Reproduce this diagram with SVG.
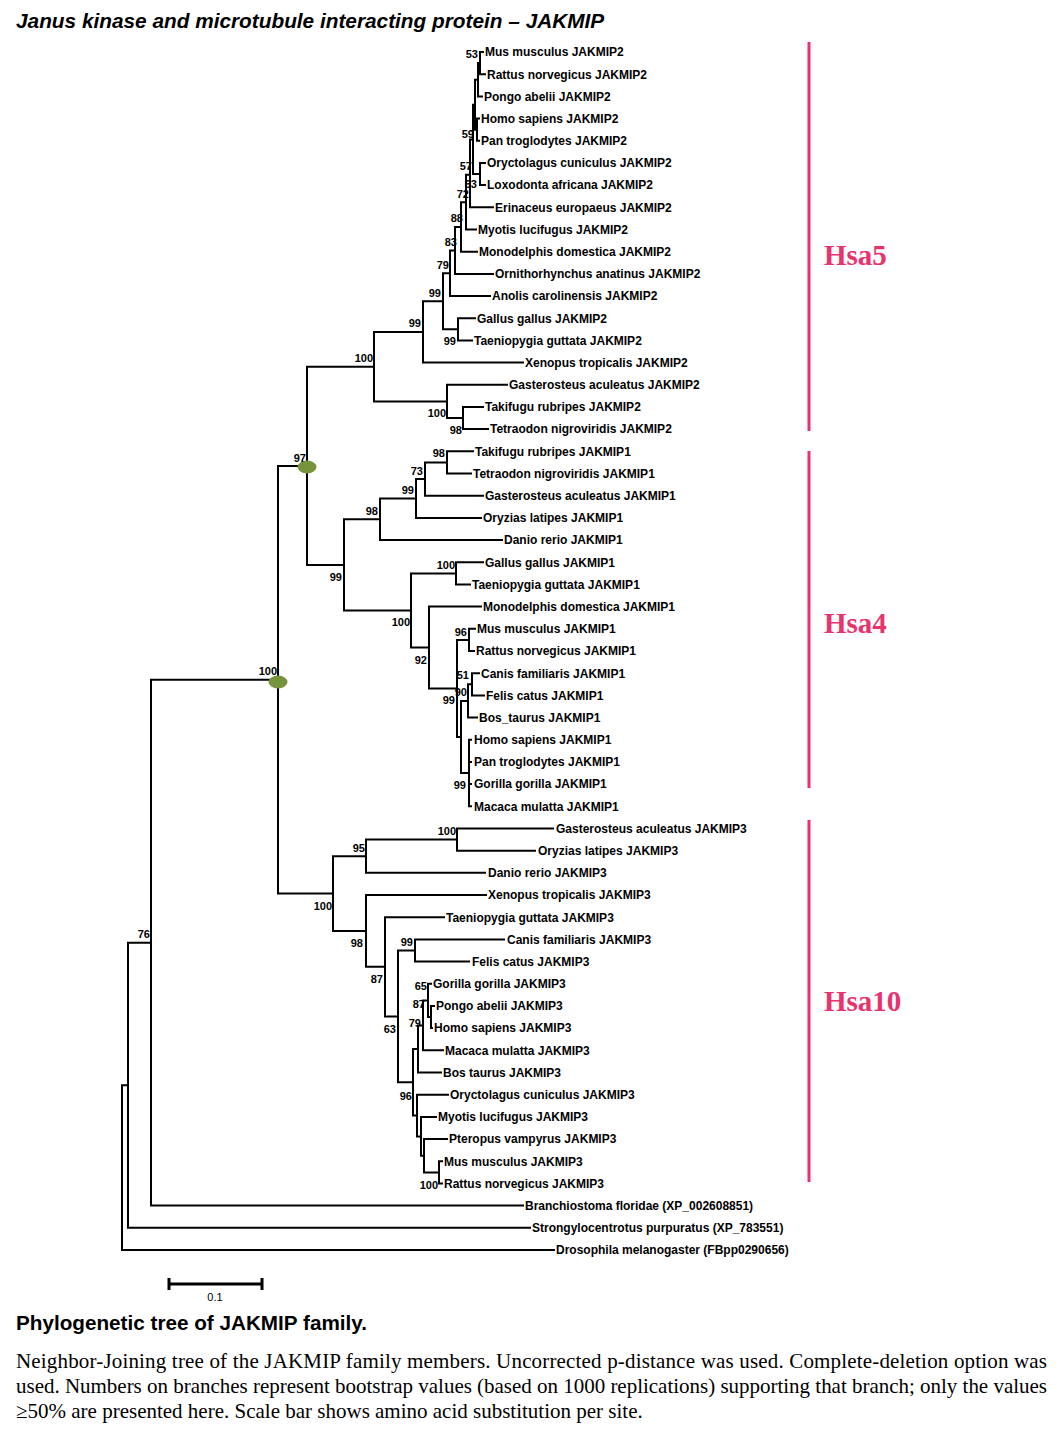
<svg xmlns="http://www.w3.org/2000/svg" width="1062" height="1436" viewBox="0 0 1062 1436">
<style>
.leaf{font-family:"Liberation Sans",Arial,sans-serif;font-weight:bold;font-size:12px;fill:#000}
.bs{font-family:"Liberation Sans",Arial,sans-serif;font-weight:bold;font-size:11px;fill:#000;text-anchor:end}
.br{fill:none;stroke:#000;stroke-width:2;stroke-linecap:square}
.hsa{font-family:"Liberation Serif","Times New Roman",serif;font-weight:bold;font-size:29px;fill:#E8336E}
.bar{stroke:#E8336E;stroke-width:3}
.para{font-family:"Liberation Serif","Times New Roman",serif;font-size:21px;fill:#000}
.dot{fill:#77933C}
</style>
<rect width="1062" height="1436" fill="#fff"/>
<text x="16" y="28" style="font-family:'Liberation Sans',Arial,sans-serif;font-weight:bold;font-style:italic;font-size:20.8px">Janus kinase and microtubule interacting protein – JAKMIP</text>

<g id="connectors">
<path class="br" d="M122 1085.3V1250M122 1250H554M122 1085.3H128M128 942.7V1227.8M128 1227.8H530M128 942.7H151M151 679.8V1205.6M151 1205.6H523M151 679.8H278M278 465.9V893.6M278 465.9H307M278 893.6H333M307 366.8V564.9M307 366.8H374M307 564.9H344"/>
<path class="br" d="M374 332V401.5M374 332H423M374 401.5H447M447 384.8V418.1M447 384.8H507M447 418.1H463M463 407V429.1M463 407H483M463 429.1H488M423 301.3V362.6M423 362.6H523M423 301.3H443M443 273.3V329.3M443 273.3H450M443 329.3H458M458 318.2V340.4M458 318.2H475M458 340.4H472M450 250.5V296M450 296H490M450 250.5H455M455 227V273.9M455 273.9H493M455 227H461M461 202.2V251.7M461 251.7H477M461 202.2H466M466 174.8V229.5M466 229.5H476M466 174.8H470M470 139.4V207.3M470 207.3H493M470 139.4H473M473 104.7V174M473 104.7H475M473 174H480M475 79.8V129.7M475 79.8H478M475 129.7H477M477 118.6V140.7M477 118.6H479M477 140.7H479M478 63.1V96.4M478 96.4H482M478 63.1H480M480 52V74.2M480 52H483M480 74.2H485M480 162.9V185.1M480 162.9H485M480 185.1H485"/>
<path class="br" d="M344 519.3V610.5M344 519.3H380M344 610.5H411M380 498.5V540.1M380 540.1H502M380 498.5H416M416 479.1V517.9M416 517.9H481M416 479.1H425M425 462.4V495.7M425 495.7H483M425 462.4H447M447 451.3V473.5M447 451.3H473M447 473.5H471M411 573.4V647.6M411 573.4H456M411 647.6H429M456 562.3V584.4M456 562.3H483M456 584.4H470M429 606.6V688.5M429 606.6H481M429 688.5H457M457 639.9V737M457 639.9H469M457 737H461M469 628.8V651M469 628.8H475M469 651H474M461 701V773M461 701H468M461 773H469M468 684.3V717.6M468 684.3H472M468 717.6H477M472 673.2V695.4M472 673.2H479M472 695.4H484M469 739.7V806.3M469 739.7H471M469 761.9H471M469 784.1H471M469 806.3H471"/>
<path class="br" d="M333 856.2V930.9M333 856.2H366M333 930.9H366M366 839.6V872.8M366 839.6H457M366 872.8H485M457 828.5V850.7M457 828.5H553M457 850.7H535M366 895V966.8M366 895H486M366 966.8H385M385 917.2V1016.4M385 917.2H444M385 1016.4H398M398 950.5V1082.3M398 950.5H415M398 1082.3H413M415 939.4V961.6M415 939.4H504M415 961.6H469M413 1049V1115.5M413 1049H418M413 1115.5H417M418 1025.4V1072.5M418 1072.5H441M418 1025.4H423M423 1000.5V1050.3M423 1050.3H443M423 1000.5H428M428 983.8V1017.1M428 983.8H431M428 1017.1H431M431 1006V1028.1M431 1006H434M431 1028.1H432M417 1094.7V1136.4M417 1094.7H448M417 1136.4H421M421 1116.9V1155.8M421 1116.9H436M421 1155.8H424M424 1139.1V1172.4M424 1139.1H447M424 1172.4H439M439 1161.3V1183.4M439 1161.3H442M439 1183.4H442"/>
</g>

<g id="leaves2">
<g id="l-mus2"><text class="leaf" x="485" y="56.3">Mus musculus JAKMIP2</text></g>
<g id="l-rat2"><text class="leaf" x="487" y="78.5">Rattus norvegicus JAKMIP2</text></g>
<g id="l-pon2"><text class="leaf" x="484" y="100.7">Pongo abelii JAKMIP2</text></g>
<g id="l-hom2"><text class="leaf" x="481" y="122.9">Homo sapiens JAKMIP2</text></g>
<g id="l-pan2"><text class="leaf" x="481" y="145">Pan troglodytes JAKMIP2</text></g>
<g id="l-ory2"><text class="leaf" x="487" y="167.2">Oryctolagus cuniculus JAKMIP2</text></g>
<g id="l-lox2"><text class="leaf" x="487" y="189.4">Loxodonta africana JAKMIP2</text></g>
<g id="l-eri2"><text class="leaf" x="495" y="211.6">Erinaceus europaeus JAKMIP2</text></g>
<g id="l-myo2"><text class="leaf" x="478" y="233.8">Myotis lucifugus JAKMIP2</text></g>
<g id="l-mon2"><text class="leaf" x="479" y="256">Monodelphis domestica JAKMIP2</text></g>
<g id="l-orn2"><text class="leaf" x="495" y="278.2">Ornithorhynchus anatinus JAKMIP2</text></g>
<g id="l-ano2"><text class="leaf" x="492" y="300.3">Anolis carolinensis JAKMIP2</text></g>
<g id="l-gal2"><text class="leaf" x="477" y="322.5">Gallus gallus JAKMIP2</text></g>
<g id="l-tae2"><text class="leaf" x="474" y="344.7">Taeniopygia guttata JAKMIP2</text></g>
<g id="l-xen2"><text class="leaf" x="525" y="366.9">Xenopus tropicalis JAKMIP2</text></g>
<g id="l-gas2"><text class="leaf" x="509" y="389.1">Gasterosteus aculeatus JAKMIP2</text></g>
<g id="l-tak2"><text class="leaf" x="485" y="411.3">Takifugu rubripes JAKMIP2</text></g>
<g id="l-tet2"><text class="leaf" x="490" y="433.4">Tetraodon nigroviridis JAKMIP2</text></g>
</g>
<g id="leaves1">
<g id="l-tak1"><text class="leaf" x="475" y="455.6">Takifugu rubripes JAKMIP1</text></g>
<g id="l-tet1"><text class="leaf" x="473" y="477.8">Tetraodon nigroviridis JAKMIP1</text></g>
<g id="l-gas1"><text class="leaf" x="485" y="500">Gasterosteus aculeatus JAKMIP1</text></g>
<g id="l-ory1"><text class="leaf" x="483" y="522.2">Oryzias latipes JAKMIP1</text></g>
<g id="l-dan1"><text class="leaf" x="504" y="544.4">Danio rerio JAKMIP1</text></g>
<g id="l-gal1"><text class="leaf" x="485" y="566.6">Gallus gallus JAKMIP1</text></g>
<g id="l-tae1"><text class="leaf" x="472" y="588.7">Taeniopygia guttata JAKMIP1</text></g>
<g id="l-mon1"><text class="leaf" x="483" y="610.9">Monodelphis domestica JAKMIP1</text></g>
<g id="l-mus1"><text class="leaf" x="477" y="633.1">Mus musculus JAKMIP1</text></g>
<g id="l-rat1"><text class="leaf" x="476" y="655.3">Rattus norvegicus JAKMIP1</text></g>
<g id="l-can1"><text class="leaf" x="481" y="677.5">Canis familiaris JAKMIP1</text></g>
<g id="l-fel1"><text class="leaf" x="486" y="699.7">Felis catus JAKMIP1</text></g>
<g id="l-bos1"><text class="leaf" x="479" y="721.9">Bos_taurus JAKMIP1</text></g>
<g id="l-hom1"><text class="leaf" x="474" y="744">Homo sapiens JAKMIP1</text></g>
<g id="l-pan1"><text class="leaf" x="474" y="766.2">Pan troglodytes JAKMIP1</text></g>
<g id="l-gor1"><text class="leaf" x="474" y="788.4">Gorilla gorilla JAKMIP1</text></g>
<g id="l-mac1"><text class="leaf" x="474" y="810.6">Macaca mulatta JAKMIP1</text></g>
</g>
<g id="leaves3">
<g id="l-gas3"><text class="leaf" x="556" y="832.8">Gasterosteus aculeatus JAKMIP3</text></g>
<g id="l-ory3"><text class="leaf" x="538" y="855">Oryzias latipes JAKMIP3</text></g>
<g id="l-dan3"><text class="leaf" x="488" y="877.1">Danio rerio JAKMIP3</text></g>
<g id="l-xen3"><text class="leaf" x="488" y="899.3">Xenopus tropicalis JAKMIP3</text></g>
<g id="l-tae3"><text class="leaf" x="446" y="921.5">Taeniopygia guttata JAKMIP3</text></g>
<g id="l-can3"><text class="leaf" x="507" y="943.7">Canis familiaris JAKMIP3</text></g>
<g id="l-fel3"><text class="leaf" x="472" y="965.9">Felis catus JAKMIP3</text></g>
<g id="l-gor3"><text class="leaf" x="433" y="988.1">Gorilla gorilla JAKMIP3</text></g>
<g id="l-pon3"><text class="leaf" x="436" y="1010.3">Pongo abelii JAKMIP3</text></g>
<g id="l-hom3"><text class="leaf" x="434" y="1032.4">Homo sapiens JAKMIP3</text></g>
<g id="l-mac3"><text class="leaf" x="445" y="1054.6">Macaca mulatta JAKMIP3</text></g>
<g id="l-bos3"><text class="leaf" x="443" y="1076.8">Bos taurus JAKMIP3</text></g>
<g id="l-ory3c"><text class="leaf" x="450" y="1099">Oryctolagus cuniculus JAKMIP3</text></g>
<g id="l-myo3"><text class="leaf" x="438" y="1121.2">Myotis lucifugus JAKMIP3</text></g>
<g id="l-pte3"><text class="leaf" x="449" y="1143.4">Pteropus vampyrus JAKMIP3</text></g>
<g id="l-mus3"><text class="leaf" x="444" y="1165.6">Mus musculus JAKMIP3</text></g>
<g id="l-rat3"><text class="leaf" x="444" y="1187.7">Rattus norvegicus JAKMIP3</text></g>
</g>
<g id="outgroups">
<g id="l-bra"><text class="leaf" x="525" y="1209.9">Branchiostoma floridae (XP_002608851)</text></g>
<g id="l-str"><text class="leaf" x="532" y="1232.1">Strongylocentrotus purpuratus (XP_783551)</text></g>
<g id="l-dro"><text class="leaf" x="556" y="1254.3">Drosophila melanogaster (FBpp0290656)</text></g>
</g>

<g id="internal-nodes">
<g id="n53"><text class="bs" x="478" y="58">53</text></g>
<g id="n59"><text class="bs" x="474" y="138">59</text></g>
<g id="n57"><text class="bs" x="472" y="170">57</text></g>
<g id="n63a"><text class="bs" x="477" y="187.5">63</text></g>
<g id="n72"><text class="bs" x="469" y="198">72</text></g>
<g id="n88"><text class="bs" x="463" y="222">88</text></g>
<g id="n83"><text class="bs" x="457" y="246">83</text></g>
<g id="n79a"><text class="bs" x="449" y="269">79</text></g>
<g id="n99a"><text class="bs" x="441" y="297">99</text></g>
<g id="n99b"><text class="bs" x="421" y="327">99</text></g>
<g id="n99gt2"><text class="bs" x="456" y="345">99</text></g>
<g id="n100j2"><text class="bs" x="373" y="362">100</text></g>
<g id="n100f2"><text class="bs" x="446" y="417">100</text></g>
<g id="n98tt2"><text class="bs" x="462" y="434">98</text></g>
<g id="n97"><ellipse class="dot" cx="307" cy="467" rx="9.5" ry="6.5"/><text class="bs" x="306" y="462">97</text></g>
<g id="n98tt1"><text class="bs" x="445" y="457">98</text></g>
<g id="n73"><text class="bs" x="423" y="475">73</text></g>
<g id="n99c"><text class="bs" x="414" y="494">99</text></g>
<g id="n98f1"><text class="bs" x="378" y="515">98</text></g>
<g id="n100gt1"><text class="bs" x="455" y="569">100</text></g>
<g id="n99j1"><text class="bs" x="342" y="581">99</text></g>
<g id="n100m1"><text class="bs" x="410" y="626">100</text></g>
<g id="n96a"><text class="bs" x="467" y="636">96</text></g>
<g id="n92"><text class="bs" x="427" y="664">92</text></g>
<g id="n51"><text class="bs" x="469" y="679">51</text></g>
<g id="n90"><text class="bs" x="467" y="696">90</text></g>
<g id="n99d"><text class="bs" x="455" y="704">99</text></g>
<g id="n99h"><text class="bs" x="466" y="789">99</text></g>
<g id="n100r"><ellipse class="dot" cx="278" cy="682" rx="9.5" ry="6.5"/><text class="bs" x="277" y="675">100</text></g>
<g id="n100f3"><text class="bs" x="456" y="835">100</text></g>
<g id="n95"><text class="bs" x="365" y="852">95</text></g>
<g id="n100j3"><text class="bs" x="332" y="910">100</text></g>
<g id="n76"><text class="bs" x="150" y="938">76</text></g>
<g id="n99cf3"><text class="bs" x="413" y="946">99</text></g>
<g id="n98j3"><text class="bs" x="363" y="947">98</text></g>
<g id="n87a"><text class="bs" x="383" y="983">87</text></g>
<g id="n65"><text class="bs" x="427" y="990">65</text></g>
<g id="n87b"><text class="bs" x="425" y="1008">87</text></g>
<g id="n79b"><text class="bs" x="421" y="1027">79</text></g>
<g id="n63b"><text class="bs" x="396" y="1033">63</text></g>
<g id="n96b"><text class="bs" x="412" y="1100">96</text></g>
<g id="n100mr3"><text class="bs" x="438" y="1189">100</text></g>
</g>

<g id="groups">
<line class="bar" x1="809" y1="42" x2="809" y2="431"/>
<text class="hsa" x="824" y="265">Hsa5</text>
<line class="bar" x1="809" y1="451" x2="809" y2="788"/>
<text class="hsa" x="824" y="633">Hsa4</text>
<line class="bar" x1="809" y1="820" x2="809" y2="1182"/>
<text class="hsa" x="824" y="1011">Hsa10</text>
</g>

<g id="scale">
<path d="M169 1284H262M169 1278V1290M262 1278V1290" fill="none" stroke="#000" stroke-width="3"/>
<text x="215" y="1301" text-anchor="middle" style="font-family:'Liberation Sans',Arial,sans-serif;font-size:11px">0.1</text>
</g>

<text x="16" y="1330" style="font-family:'Liberation Sans',Arial,sans-serif;font-weight:bold;font-size:20.7px">Phylogenetic tree of JAKMIP family.</text>
<text class="para" x="16" y="1368" textLength="1031" lengthAdjust="spacing">Neighbor-Joining tree of the JAKMIP family members. Uncorrected p-distance was used. Complete-deletion option was</text>
<text class="para" x="16" y="1393" textLength="1031" lengthAdjust="spacing">used. Numbers on branches represent bootstrap values (based on 1000 replications) supporting that branch; only the values</text>
<text class="para" x="16" y="1418">≥50% are presented here. Scale bar shows amino acid substitution per site.</text>
</svg>
